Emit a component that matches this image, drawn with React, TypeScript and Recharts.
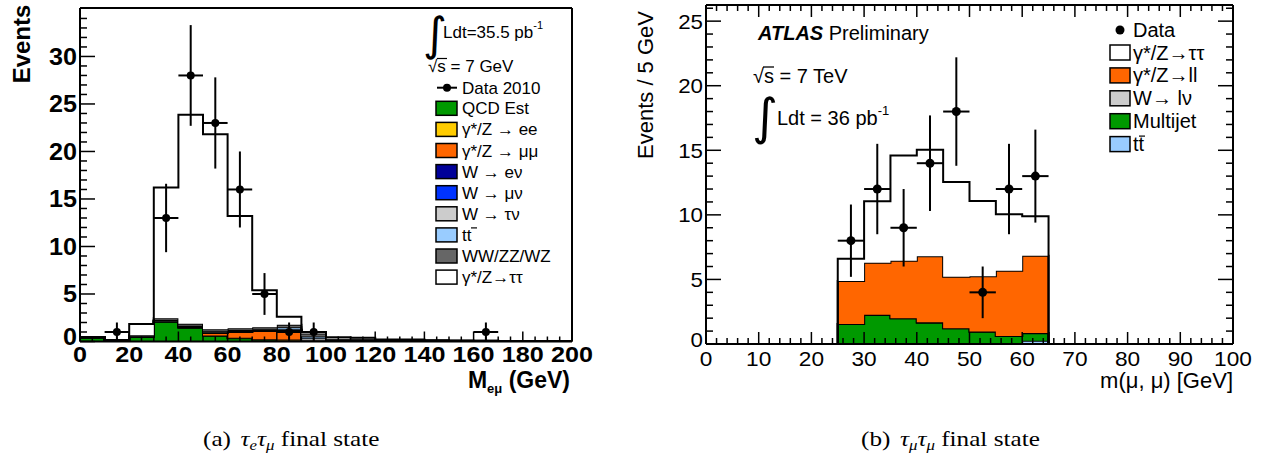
import React from "react";
import { ComposedChart, Area, Scatter, ErrorBar, XAxis, YAxis } from "recharts";

const SANS = "'Liberation Sans', Arial, Helvetica, sans-serif";
const SERIF = "'Liberation Serif', 'Times New Roman', serif";

// ---------- (a) tau_e tau_mu : M_emu, 10 GeV bins ----------
const emuBinLow = [0, 10, 20, 30, 40, 50, 60, 70, 80, 90, 100, 110, 120, 130, 140, 150, 160, 170, 180, 190];
const emuQCD = [0.44, 0, 0.5, 2.1, 1.45, 0.6, 0.35, 0.2, 0.1, 0.05, 0, 0, 0, 0, 0, 0, 0, 0, 0, 0];
const emuZee = [0, 0, 0, 0, 0.02, 0.03, 0.05, 0.05, 0.1, 0.03, 0, 0, 0, 0, 0, 0, 0, 0, 0, 0];
const emuZmumu = [0, 0, 0, 0.02, 0.05, 0.3, 0.6, 0.85, 1.0, 0.05, 0, 0, 0, 0, 0, 0, 0, 0, 0, 0];
const emuWenu = [0, 0, 0, 0, 0, 0, 0, 0, 0, 0, 0, 0, 0, 0, 0, 0, 0, 0, 0, 0];
const emuWmunu = [0, 0, 0, 0, 0, 0, 0, 0, 0, 0, 0, 0, 0, 0, 0, 0, 0, 0, 0, 0];
const emuWtaunu = [0, 0, 0.05, 0.1, 0.1, 0.1, 0.1, 0.1, 0.1, 0.2, 0.05, 0.05, 0, 0, 0, 0, 0, 0, 0, 0];
const emuTtbar = [0, 0, 0, 0.03, 0.05, 0.05, 0.1, 0.1, 0.2, 0.2, 0.1, 0.1, 0.08, 0.08, 0.05, 0.05, 0.03, 0.02, 0.02, 0.01];
const emuDiboson = [0, 0.15, 0.1, 0.2, 0.2, 0.22, 0.2, 0.2, 0.25, 0.3, 0.15, 0.15, 0.08, 0.08, 0.06, 0.04, 0.04, 0.03, 0.02, 0.02];
const emuZtautau = [0, 0, 1.19, 13.75, 22.0, 20.5, 11.8, 3.9, 0.85, 0.17, 0.15, 0.1, 0.04, 0.04, 0.01, 0.01, 0.01, 0.01, 0, 0];

const emuDataX = [15, 35, 45, 55, 65, 75, 85, 95, 165];
const emuDataY = [1, 13, 28, 23, 16, 5, 1, 1, 1];
const emuDataErr = [1, 3.6, 5.3, 4.8, 4, 2.2, 1, 1, 1];

const emuKeys = ["qcd", "zee", "zmumu", "wenu", "wmunu", "wtaunu", "ttbar", "diboson", "ztautau"];
const emuSeries = [emuQCD, emuZee, emuZmumu, emuWenu, emuWmunu, emuWtaunu, emuTtbar, emuDiboson, emuZtautau];
const emuColors = ["#009900", "#ffcc00", "#ff6600", "#000099", "#0033ff", "#cccccc", "#99ccff", "#666666", "#ffffff"];
const emuLabels = ["QCD Est", "γ*/Z → ee", "γ*/Z → μμ", "W → eν", "W → μν", "W → τν", "tt", "WW/ZZ/WZ", "γ*/Z→ττ"];

// ---------- (b) tau_mu tau_mu : m(mu,mu), 5 GeV bins ----------
const mmBinLow = [25, 30, 35, 40, 45, 50, 55, 60];
const mmTtbar = [0, 0, 0, 0, 0.02, 0.04, 0.05, 0.25];
const mmMultijet = [1.55, 2.24, 1.99, 1.65, 1.19, 0.91, 0.57, 0.58];
const mmWlnu = [0, 0.02, 0, 0.03, 0, 0.02, 0, 0.02];
const mmZll = [3.32, 4.03, 4.45, 5.12, 3.99, 4.28, 5.05, 5.98];
const mmZtautau = [1.73, 4.77, 8.16, 8.25, 7.35, 5.83, 4.38, 3.07];

const mmDataX = [27.5, 32.5, 37.5, 42.5, 47.5, 52.5, 57.5, 62.5];
const mmDataY = [8, 12, 9, 14, 18, 4, 12, 13];
const mmDataErr = [2.8, 3.5, 3.0, 3.7, 4.2, 2.0, 3.5, 3.6];

const mmKeys = ["ttbar", "multijet", "wlnu", "zll", "ztautau"];
const mmSeries = [mmTtbar, mmMultijet, mmWlnu, mmZll, mmZtautau];
const mmColors = ["#99ccff", "#009900", "#cccccc", "#ff6600", "#ffffff"];
const mmLegend = [
  { label: "γ*/Z→ττ", color: "#ffffff" },
  { label: "γ*/Z→ll", color: "#ff6600" },
  { label: "W→ lν", color: "#cccccc" },
  { label: "Multijet", color: "#009900" },
  { label: "tt", color: "#99ccff" },
];

// step-histogram rows for stacked stepAfter areas
function stepRows(lows: number[], width: number, series: number[][], keys: string[], close: boolean) {
  const zero: any = {};
  keys.forEach((k) => (zero[k] = 0));
  const rows: any[] = lows.map((x, i) => {
    const r: any = { x };
    keys.forEach((k, j) => (r[k] = series[j][i]));
    return r;
  });
  const end = { ...rows[rows.length - 1], x: lows[lows.length - 1] + width };
  if (!close) return [...rows, end];
  return [{ ...zero, x: lows[0] }, ...rows, end, { ...zero, x: end.x }];
}

const emuRows = stepRows(emuBinLow, 10, emuSeries, emuKeys, false);
const mmRows = stepRows(mmBinLow, 5, mmSeries, mmKeys, true);
const emuPoints = emuDataX.map((x, i) => ({ x, y: emuDataY[i], ey: emuDataErr[i], ex: 5 }));
const mmPoints = mmDataX.map((x, i) => ({ x, y: mmDataY[i], ey: mmDataErr[i], ex: 2.5 }));

const range = (a: number, b: number, s: number) => {
  const out: number[] = [];
  for (let v = a; v <= b + 1e-9; v += s) out.push(Math.round(v * 100) / 100);
  return out;
};

type TickCfg = {
  side: "bottom" | "left" | "top" | "right";
  major: number;
  majorLen: number;
  minorLen: number;
  sw: number;
  label?: { size: number; weight: number; gap: number; digitW: number };
};

const makeTick = (c: TickCfg) => (p: any) => {
  const x = Number(p.x);
  const y = Number(p.y);
  const v = Number(p.payload?.value);
  const isMajor = Math.abs(v / c.major - Math.round(v / c.major)) < 1e-6;
  const len = isMajor ? c.majorLen : c.minorLen;
  const d = c.side === "bottom" ? [0, -len] : c.side === "top" ? [0, len] : c.side === "left" ? [len, 0] : [-len, 0];
  let lbl: React.ReactNode = null;
  if (c.label && isMajor) {
    const f = {
      fontSize: c.label.size,
      fontWeight: c.label.weight,
      fontFamily: SANS,
      fill: "#000",
      textLength: String(v).length * c.label.digitW,
      lengthAdjust: "spacingAndGlyphs",
    };
    lbl =
      c.side === "bottom" ? (
        <text x={x} y={y + c.label.gap} textAnchor="middle" {...f}>{v}</text>
      ) : (
        <text x={x - c.label.gap} y={y + 0.36 * c.label.size - (v === 0 ? 5 : 0)} textAnchor="end" {...f}>{v}</text>
      );
  }
  return (
    <g>
      <line x1={x} y1={y} x2={x + d[0]} y2={y + d[1]} stroke="#000" strokeWidth={c.sw} />
      {lbl}
    </g>
  );
};

const dot = (r: number) => (p: any) => <circle cx={p.cx} cy={p.cy} r={r} fill="#000" />;
const frame = { stroke: "#000", strokeWidth: 2 };

const EmuChart = () => (
  <ComposedChart width={600} height={400} data={emuRows} margin={{ top: 7, right: 27, bottom: 28.5, left: 20 }}>
    <XAxis dataKey="x" type="number" domain={[0, 200]} allowDataOverflow height={30}
      ticks={range(0, 200, 5)} interval={0} tickSize={0} tickMargin={0} tickLine={false} axisLine={frame}
      tick={makeTick({ side: "bottom", major: 20, majorLen: 10, minorLen: 5, sw: 1.5, label: { size: 22, weight: 700, gap: 20, digitW: 14 } })} />
    <XAxis xAxisId="t" orientation="top" dataKey="x" type="number" domain={[0, 200]} allowDataOverflow height={1}
      tick={false} tickLine={false} axisLine={frame} />
    <YAxis type="number" domain={[0, 35.1]} allowDataOverflow width={60}
      ticks={range(0, 34, 1)} interval={0} tickSize={0} tickMargin={0} tickLine={false} axisLine={frame}
      tick={makeTick({ side: "left", major: 5, majorLen: 15, minorLen: 7, sw: 1.5, label: { size: 23, weight: 700, gap: 3, digitW: 14 } })} />
    <YAxis yAxisId="r" orientation="right" type="number" domain={[0, 35.1]} allowDataOverflow width={1}
      tick={false} tickLine={false} axisLine={frame} />
    {emuKeys.map((k, i) => (
      <Area key={k} dataKey={k} stackId="s" type="stepAfter" fill={emuColors[i]} fillOpacity={1}
        stroke="#000" strokeWidth={2} dot={false} activeDot={false} isAnimationActive={false} />
    ))}
    <Scatter data={emuPoints} dataKey="y" shape={dot(4)} isAnimationActive={false}>
      <ErrorBar dataKey="ey" direction="y" width={0} stroke="#000" strokeWidth={2} />
      <ErrorBar dataKey="ex" direction="x" width={0} stroke="#000" strokeWidth={2} />
    </Scatter>
  </ComposedChart>
);

const MmChart = () => (
  <ComposedChart width={647} height={400} data={mmRows} margin={{ top: 4, right: 33, bottom: 26, left: 26 }}>
    <XAxis dataKey="x" type="number" domain={[0, 100]} allowDataOverflow height={30}
      ticks={range(0, 100, 2)} interval={0} tickSize={0} tickMargin={0} tickLine={false} axisLine={frame}
      tick={makeTick({ side: "bottom", major: 10, majorLen: 12, minorLen: 6, sw: 1.5, label: { size: 21, weight: 400, gap: 22, digitW: 12.6 } })} />
    <XAxis xAxisId="t" orientation="top" dataKey="x" type="number" domain={[0, 100]} allowDataOverflow height={1}
      ticks={range(0, 100, 2)} interval={0} tickSize={0} tickMargin={0} tickLine={false} axisLine={frame}
      tick={makeTick({ side: "top", major: 10, majorLen: 12, minorLen: 6, sw: 1.5 })} />
    <YAxis type="number" domain={[0, 26.25]} allowDataOverflow width={60}
      ticks={range(0, 26, 1)} interval={0} tickSize={0} tickMargin={0} tickLine={false} axisLine={frame}
      tick={makeTick({ side: "left", major: 5, majorLen: 15, minorLen: 7, sw: 1.5, label: { size: 21, weight: 400, gap: 3, digitW: 12.4 } })} />
    <YAxis yAxisId="r" orientation="right" type="number" domain={[0, 26.25]} allowDataOverflow width={1}
      ticks={range(0, 26, 1)} interval={0} tickSize={0} tickMargin={0} tickLine={false} axisLine={frame}
      tick={makeTick({ side: "right", major: 5, majorLen: 15, minorLen: 7, sw: 1.5 })} />
    {mmKeys.map((k, i) => (
      <Area key={k} dataKey={k} stackId="s" type="stepAfter" fill={mmColors[i]} fillOpacity={1}
        stroke="#000" strokeWidth={2} dot={false} activeDot={false} isAnimationActive={false} />
    ))}
    <Scatter data={mmPoints} dataKey="y" shape={dot(4.5)} isAnimationActive={false}>
      <ErrorBar dataKey="ey" direction="y" width={0} stroke="#000" strokeWidth={2} />
      <ErrorBar dataKey="ex" direction="x" width={0} stroke="#000" strokeWidth={2} />
    </Scatter>
  </ComposedChart>
);

const Overlay = () => (
  <svg width={1267} height={458} style={{ position: "absolute", left: 0, top: 0, pointerEvents: "none" }} fontFamily={SANS}>
    {/* ---- panel (a) ---- */}
    <text transform="translate(30,44) rotate(-90)" textAnchor="middle" fontSize={24} fontWeight={700}>Events</text>
    <text x={570} y={388} textAnchor="end" fontSize={23} fontWeight={700}>
      M<tspan fontSize={13} dy={5}>eμ</tspan><tspan dy={-5}> (GeV)</tspan>
    </text>
    <text x={423} y={50} fontSize={46} fontFamily="'DejaVu Sans'">∫</text>
    <text x={443} y={38} fontSize={17}>Ldt=35.5 pb<tspan fontSize={11} dy={-9}>-1</tspan></text>
    <text x={428} y={72} fontSize={17}>√s = 7 GeV</text>
    <line x1={437} y1={58.5} x2={447} y2={58.5} stroke="#000" strokeWidth={1.2} />
    <line x1={437} y1={87.7} x2={457} y2={87.7} stroke="#000" strokeWidth={2} />
    <circle cx={447} cy={87.7} r={4} fill="#000" />
    <text x={462} y={94} fontSize={17}>Data 2010</text>
    {emuLabels.map((l, i) => {
      const cy = 108.3 + i * 21.1;
      return (
        <g key={l}>
          <rect x={436} y={cy - 7} width={21} height={14} fill={emuColors[i]} stroke="#000" strokeWidth={1.5} />
          <text x={462} y={cy + 6} fontSize={17}>{l}</text>
          {l === "tt" && <line x1={471} y1={cy - 7} x2={477} y2={cy - 7} stroke="#000" strokeWidth={1.2} />}
        </g>
      );
    })}

    {/* ---- panel (b) ---- */}
    <text transform="translate(653,85) rotate(-90)" textAnchor="middle" fontSize={22}>Events / 5 GeV</text>
    <text x={1233} y={388} textAnchor="end" fontSize={22}>m(μ, μ) [GeV]</text>
    <text x={758} y={40} fontSize={20}>
      <tspan fontWeight={700} fontStyle="italic">ATLAS</tspan> Preliminary
    </text>
    <text x={753} y={83} fontSize={20}>√s = 7 TeV</text>
    <line x1={763} y1={67} x2={774} y2={67} stroke="#000" strokeWidth={1.3} />
    <text x={752} y={134} fontSize={50} fontFamily="'DejaVu Sans'">∫</text>
    <text x={777} y={125} fontSize={20}>Ldt = 36 pb<tspan fontSize={13} dy={-10}>-1</tspan></text>
    <circle cx={1120} cy={30} r={4.5} fill="#000" />
    <text x={1133} y={37} fontSize={20}>Data</text>
    {mmLegend.map((e, i) => {
      const cy = 52.5 + i * 22.9;
      return (
        <g key={e.label}>
          <rect x={1110} y={cy - 7.5} width={20} height={15} fill={e.color} stroke="#000" strokeWidth={1.5} />
          <text x={1133} y={cy + 7} fontSize={20}>{e.label}</text>
          {e.label === "tt" && <line x1={1139} y1={cy - 8} x2={1145} y2={cy - 8} stroke="#000" strokeWidth={1.2} />}
        </g>
      );
    })}

    {/* ---- captions ---- */}
    <text transform="translate(203,446) scale(1.2,1)" fontSize={21} fontFamily={SERIF}>
      (a)<tspan dx={8} fontStyle="italic">τ</tspan><tspan fontStyle="italic" fontSize={14} dy={4}>e</tspan>
      <tspan fontStyle="italic" dy={-4}>τ</tspan><tspan fontStyle="italic" fontSize={14} dy={4}>μ</tspan>
      <tspan dy={-4}> final state</tspan>
    </text>
    <text transform="translate(861,446) scale(1.2,1)" fontSize={21} fontFamily={SERIF}>
      (b)<tspan dx={8} fontStyle="italic">τ</tspan><tspan fontStyle="italic" fontSize={14} dy={4}>μ</tspan>
      <tspan fontStyle="italic" dy={-4}>τ</tspan><tspan fontStyle="italic" fontSize={14} dy={4}>μ</tspan>
      <tspan dy={-4}> final state</tspan>
    </text>
  </svg>
);

export default function App() {
  return (
    <div style={{ position: "absolute", left: 0, top: 0, width: 1267, height: 458, background: "#fff" }}>
      <div style={{ position: "absolute", left: 0, top: 0 }}>
        <EmuChart />
      </div>
      <div style={{ position: "absolute", left: 620, top: 0 }}>
        <MmChart />
      </div>
      <Overlay />
    </div>
  );
}
